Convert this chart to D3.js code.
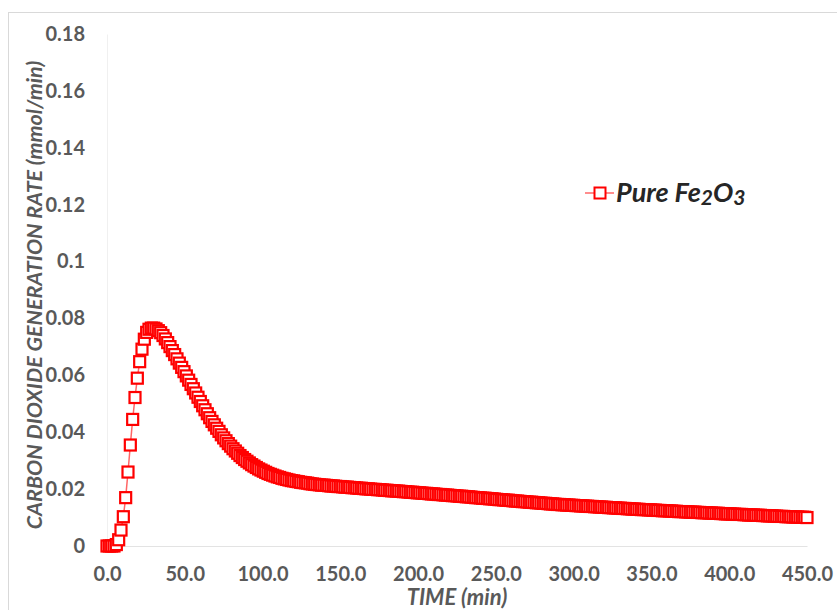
<!DOCTYPE html>
<html>
<head>
<meta charset="utf-8">
<script src="https://cdn.jsdelivr.net/npm/d3@7"></script>
<style>
  body { margin: 0; background: #fff; }
  svg { font-family: Lato, "Open Sans", sans-serif; }
</style>
</head>
<body>
<svg id="chart"></svg>
<script>
"use strict";

let width = 837;
let height = 610;

// time (min), sampled every 1.5 min
let times = [
  0, 1.5, 3, 4.5, 6, 7.5, 9, 10.5, 12, 13.5,
  15, 16.5, 18, 19.5, 21, 22.5, 24, 25.5, 27, 28.5,
  30, 31.5, 33, 34.5, 36, 37.5, 39, 40.5, 42, 43.5,
  45, 46.5, 48, 49.5, 51, 52.5, 54, 55.5, 57, 58.5,
  60, 61.5, 63, 64.5, 66, 67.5, 69, 70.5, 72, 73.5,
  75, 76.5, 78, 79.5, 81, 82.5, 84, 85.5, 87, 88.5,
  90, 91.5, 93, 94.5, 96, 97.5, 99, 100.5, 102, 103.5,
  105, 106.5, 108, 109.5, 111, 112.5, 114, 115.5, 117, 118.5,
  120, 121.5, 123, 124.5, 126, 127.5, 129, 130.5, 132, 133.5,
  135, 136.5, 138, 139.5, 141, 142.5, 144, 145.5, 147, 148.5,
  150, 151.5, 153, 154.5, 156, 157.5, 159, 160.5, 162, 163.5,
  165, 166.5, 168, 169.5, 171, 172.5, 174, 175.5, 177, 178.5,
  180, 181.5, 183, 184.5, 186, 187.5, 189, 190.5, 192, 193.5,
  195, 196.5, 198, 199.5, 201, 202.5, 204, 205.5, 207, 208.5,
  210, 211.5, 213, 214.5, 216, 217.5, 219, 220.5, 222, 223.5,
  225, 226.5, 228, 229.5, 231, 232.5, 234, 235.5, 237, 238.5,
  240, 241.5, 243, 244.5, 246, 247.5, 249, 250.5, 252, 253.5,
  255, 256.5, 258, 259.5, 261, 262.5, 264, 265.5, 267, 268.5,
  270, 271.5, 273, 274.5, 276, 277.5, 279, 280.5, 282, 283.5,
  285, 286.5, 288, 289.5, 291, 292.5, 294, 295.5, 297, 298.5,
  300, 301.5, 303, 304.5, 306, 307.5, 309, 310.5, 312, 313.5,
  315, 316.5, 318, 319.5, 321, 322.5, 324, 325.5, 327, 328.5,
  330, 331.5, 333, 334.5, 336, 337.5, 339, 340.5, 342, 343.5,
  345, 346.5, 348, 349.5, 351, 352.5, 354, 355.5, 357, 358.5,
  360, 361.5, 363, 364.5, 366, 367.5, 369, 370.5, 372, 373.5,
  375, 376.5, 378, 379.5, 381, 382.5, 384, 385.5, 387, 388.5,
  390, 391.5, 393, 394.5, 396, 397.5, 399, 400.5, 402, 403.5,
  405, 406.5, 408, 409.5, 411, 412.5, 414, 415.5, 417, 418.5,
  420, 421.5, 423, 424.5, 426, 427.5, 429, 430.5, 432, 433.5,
  435, 436.5, 438, 439.5, 441, 442.5, 444, 445.5, 447, 448.5,
  450
];

// CO2 generation rate (mmol/min), pure Fe2O3
let rates = [
  0, 0, 0, 0, 0.0005, 0.0022, 0.0056, 0.0103, 0.0170, 0.0260,
  0.0355, 0.0445, 0.0522, 0.0590, 0.0648, 0.0692, 0.0727, 0.0751, 0.0762, 0.0766,
  0.0766, 0.0763, 0.0757, 0.0750, 0.0740, 0.0728, 0.0715, 0.0701, 0.0687, 0.0673,
  0.0658, 0.0643, 0.0628, 0.0613, 0.0598, 0.0583, 0.0568, 0.0553, 0.0538, 0.0523,
  0.0508, 0.0493, 0.0479, 0.0465, 0.0451, 0.0438, 0.0426, 0.0414, 0.0403, 0.0391,
  0.0380, 0.0370, 0.0360, 0.0351, 0.0342, 0.0334, 0.0326, 0.0318, 0.0311, 0.0304,
  0.0298, 0.0292, 0.0286, 0.0281, 0.0276, 0.0271, 0.0267, 0.0263, 0.0259, 0.0255,
  0.0252, 0.0249, 0.0246, 0.0243, 0.0241, 0.0238, 0.0236, 0.0234, 0.0232, 0.0230,
  0.0229, 0.0227, 0.0226, 0.0224, 0.0223, 0.0222, 0.0221, 0.0219, 0.0218, 0.0217,
  0.0216, 0.0215, 0.0214, 0.0214, 0.0213, 0.0212, 0.0211, 0.0211, 0.0210, 0.0209,
  0.0209, 0.0208, 0.0207, 0.0207, 0.0206, 0.0205, 0.0205, 0.0204, 0.0203, 0.0203,
  0.0202, 0.0201, 0.0201, 0.0200, 0.0199, 0.0199, 0.0198, 0.0198, 0.0197, 0.0196,
  0.0196, 0.0195, 0.0194, 0.0194, 0.0193, 0.0193, 0.0192, 0.0191, 0.0191, 0.0190,
  0.0189, 0.0189, 0.0188, 0.0187, 0.0187, 0.0186, 0.0185, 0.0185, 0.0184, 0.0183,
  0.0183, 0.0182, 0.0181, 0.0181, 0.0180, 0.0179, 0.0179, 0.0178, 0.0177, 0.0177,
  0.0176, 0.0175, 0.0175, 0.0174, 0.0173, 0.0173, 0.0172, 0.0171, 0.0170, 0.0170,
  0.0169, 0.0168, 0.0168, 0.0167, 0.0166, 0.0166, 0.0165, 0.0164, 0.0163, 0.0163,
  0.0162, 0.0161, 0.0161, 0.0160, 0.0159, 0.0158, 0.0158, 0.0157, 0.0156, 0.0156,
  0.0155, 0.0154, 0.0154, 0.0153, 0.0152, 0.0152, 0.0151, 0.0150, 0.0150, 0.0149,
  0.0148, 0.0148, 0.0147, 0.0146, 0.0146, 0.0145, 0.0145, 0.0144, 0.0144, 0.0143,
  0.0143, 0.0142, 0.0142, 0.0141, 0.0141, 0.0140, 0.0140, 0.0139, 0.0139, 0.0138,
  0.0138, 0.0137, 0.0137, 0.0136, 0.0136, 0.0135, 0.0135, 0.0134, 0.0134, 0.0133,
  0.0133, 0.0132, 0.0132, 0.0131, 0.0131, 0.0130, 0.0130, 0.0129, 0.0129, 0.0128,
  0.0128, 0.0128, 0.0127, 0.0127, 0.0126, 0.0126, 0.0125, 0.0125, 0.0124, 0.0124,
  0.0124, 0.0123, 0.0123, 0.0122, 0.0122, 0.0121, 0.0121, 0.0121, 0.0120, 0.0120,
  0.0119, 0.0119, 0.0119, 0.0118, 0.0118, 0.0117, 0.0117, 0.0117, 0.0116, 0.0116,
  0.0115, 0.0115, 0.0115, 0.0114, 0.0114, 0.0113, 0.0113, 0.0113, 0.0112, 0.0112,
  0.0111, 0.0111, 0.0111, 0.0110, 0.0110, 0.0109, 0.0109, 0.0109, 0.0108, 0.0108,
  0.0108, 0.0107, 0.0107, 0.0106, 0.0106, 0.0106, 0.0105, 0.0105, 0.0104, 0.0104,
  0.0104, 0.0103, 0.0103, 0.0103, 0.0102, 0.0102, 0.0102, 0.0101, 0.0101, 0.0101,
  0.0100
];

let xTicks = [0, 50, 100, 150, 200, 250, 300, 350, 400, 450];
let yTicks = [0, 0.02, 0.04, 0.06, 0.08, 0.1, 0.12, 0.14, 0.16, 0.18];

let seriesName = "Pure Fe";
let xTitle = "TIME (min)";
let yTitle = "CARBON DIOXIDE GENERATION RATE (mmol/min)";

let points = times.map((t, i) => ({ t: t, v: rates[i] }));

let svg = d3.select("#chart").attr("width", width).attr("height", height);

// chart frame
svg.append("rect")
  .attr("x", 8.5).attr("y", 12.5)
  .attr("width", 840).attr("height", 620)
  .attr("fill", "#fff")
  .attr("stroke", "#d9d9d9");

let xScale = d3.scaleLinear().domain([0, 450]).range([107, 807]);
let yScale = d3.scaleLinear().domain([0, 0.18]).range([546, 34]);

// axes
let xAxis = svg.append("g")
  .attr("transform", `translate(0,${yScale(0)})`)
  .call(d3.axisBottom(xScale).tickValues(xTicks).tickFormat(d3.format(".1f")).tickSize(0).tickPadding(21));
xAxis.select(".domain").attr("stroke", "#e3e3e3");

let yAxis = svg.append("g")
  .attr("transform", `translate(${xScale(0)},0)`)
  .call(d3.axisLeft(yScale).tickValues(yTicks)
    .tickFormat(d => d === 0 ? "0" : String(+d.toFixed(2))).tickSize(0).tickPadding(22));
yAxis.select(".domain").attr("stroke", "#f0f0f0");

svg.selectAll(".tick text")
  .attr("fill", "#595959")
  .style("font-size", "20px")
  .style("font-weight", "bold")
  .style("font-family", "Lato, 'Open Sans', sans-serif");

// titles
svg.append("text")
  .attr("x", 457).attr("y", 605)
  .attr("text-anchor", "middle")
  .attr("fill", "#595959")
  .style("font-size", "22px")
  .style("font-weight", "bold")
  .style("font-style", "italic")
  .text(xTitle);

svg.append("text")
  .attr("transform", "translate(42,295)rotate(-90)")
  .attr("text-anchor", "middle")
  .attr("fill", "#595959")
  .style("font-size", "21.5px")
  .style("font-weight", "bold")
  .style("font-style", "italic")
  .text(yTitle);

// series line + square markers
let line = d3.line().x(d => xScale(d.t)).y(d => yScale(d.v));

svg.append("path")
  .datum(points)
  .attr("d", line)
  .attr("fill", "none")
  .attr("stroke", "#ff0000")
  .attr("stroke-opacity", 0.6)
  .attr("stroke-width", 1.5);

let markerSize = 11;
svg.append("g").selectAll("rect")
  .data(points)
  .enter()
  .append("rect")
    .attr("x", d => xScale(d.t) - markerSize / 2)
    .attr("y", d => yScale(d.v) - markerSize / 2)
    .attr("width", markerSize)
    .attr("height", markerSize)
    .attr("fill", "#fff")
    .attr("stroke", "#ff0000")
    .attr("stroke-width", 2.2);

// legend
let legend = svg.append("g").attr("transform", "translate(600,193)");
legend.append("line")
  .attr("x1", -15).attr("x2", 14)
  .attr("stroke", "#ff0000").attr("stroke-opacity", 0.6).attr("stroke-width", 1.5);
legend.append("rect")
  .attr("x", -markerSize / 2).attr("y", -markerSize / 2)
  .attr("width", markerSize).attr("height", markerSize)
  .attr("fill", "#fff").attr("stroke", "#ff0000").attr("stroke-width", 2);

let legendText = legend.append("text")
  .attr("x", 16).attr("y", 9)
  .attr("fill", "#262626")
  .style("font-size", "27px")
  .style("font-weight", "bold")
  .style("font-style", "italic");
legendText.append("tspan").text(seriesName);
legendText.append("tspan").attr("dy", 3).style("font-size", "21px").text("2");
legendText.append("tspan").attr("dy", -3).text("O");
legendText.append("tspan").attr("dy", 3).style("font-size", "21px").text("3");
</script>
</body>
</html>
